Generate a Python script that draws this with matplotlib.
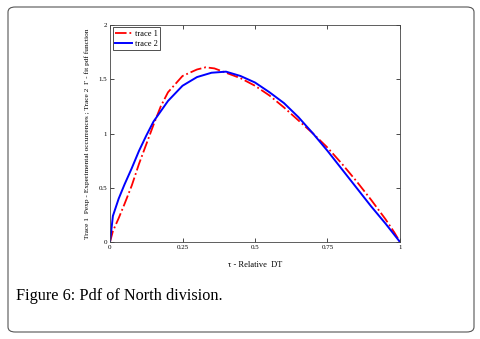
import matplotlib
matplotlib.use("Agg")
import matplotlib.pyplot as plt
from matplotlib.patches import FancyBboxPatch

x1 = [0.0, 0.01, 0.03, 0.05, 0.075, 0.1, 0.125, 0.15, 0.175, 0.2, 0.25, 0.3, 0.33, 0.36, 0.4, 0.45, 0.5, 0.55, 0.6, 0.65, 0.7, 0.75, 0.8, 0.85, 0.9, 0.95, 0.98, 1.0]
y1 = [0.0, 0.1, 0.22, 0.35, 0.52, 0.72, 0.9, 1.08, 1.25, 1.38, 1.53, 1.59, 1.61, 1.6, 1.56, 1.51, 1.44, 1.35, 1.24, 1.12, 1.0, 0.87, 0.72, 0.56, 0.39, 0.21, 0.09, 0.0]
x2 = [0.0, 0.005, 0.01, 0.03, 0.05, 0.075, 0.1, 0.125, 0.15, 0.2, 0.25, 0.3, 0.35, 0.4, 0.45, 0.5, 0.55, 0.6, 0.65, 0.7, 0.75, 0.8, 0.85, 0.9, 0.95, 1.0]
y2 = [0.0, 0.12, 0.24, 0.4, 0.53, 0.68, 0.84, 0.98, 1.11, 1.3, 1.44, 1.52, 1.56, 1.57, 1.53, 1.47, 1.38, 1.28, 1.15, 1.0, 0.84, 0.67, 0.5, 0.33, 0.17, 0.0]
xticks = [0, 0.25, 0.5, 0.75, 1]
xticklabels = ["0", "0.25", "0.5", "0.75", "1"]
yticks = [0, 0.5, 1, 1.5, 2]
yticklabels = ["0", "0.5", "1", "1.5", "2"]

plt.rcParams['font.family'] = ['Liberation Serif', 'DejaVu Serif']
fig = plt.figure(figsize=(4.8, 3.39), dpi=100)
fig.patch.set_facecolor('white')
frame = FancyBboxPatch((8/480, 7/339), 466/480, 325/339, boxstyle="round,pad=0,rounding_size=0.015",
                       transform=fig.transFigure, facecolor='none', edgecolor='#555555', linewidth=0.8,
                       zorder=-1)
fig.patches.append(frame)

ax = fig.add_axes([110/480, 1 - 242/339, 290/480, 217/339])
ax.set_facecolor('none')
ax.plot(x1, y1, color='red', linestyle='-.', linewidth=1.3, label='trace 1')
ax.plot(x2, y2, color='blue', linestyle='-', linewidth=1.4, label='trace 2')
ax.set_xlim(0, 1)
ax.set_ylim(0, 2)
ax.set_xticks(xticks)
ax.set_xticklabels(xticklabels)
ax.set_yticks(yticks)
ax.set_yticklabels(yticklabels)
ax.tick_params(direction='in', top=True, right=True, labelsize=5, length=3, width=0.5, pad=2)
for s in ax.spines.values():
    s.set_linewidth(0.6)
    s.set_color('#444444')
ax.set_xlabel('τ - Relative  DT', fontsize=6, labelpad=8)
ax.set_ylabel('Trace 1  Pexp - Experimental occurrences ; Trace 2  Γ - fit pdf function', fontsize=5.3, labelpad=6)
leg = ax.legend(loc='upper left', fontsize=6, frameon=True, fancybox=False, borderpad=0.3,
                handlelength=2.0, handletextpad=0.4, labelspacing=0.2, borderaxespad=0.3)
leg.get_frame().set_edgecolor('black')
leg.get_frame().set_linewidth(0.6)

fig.text(16/480, 1 - 296/339, 'Figure 6: Pdf of North division.', fontsize=11.7, va='center', ha='left',
         family=['Liberation Serif'])

fig.savefig('out.png', dpi=100)
